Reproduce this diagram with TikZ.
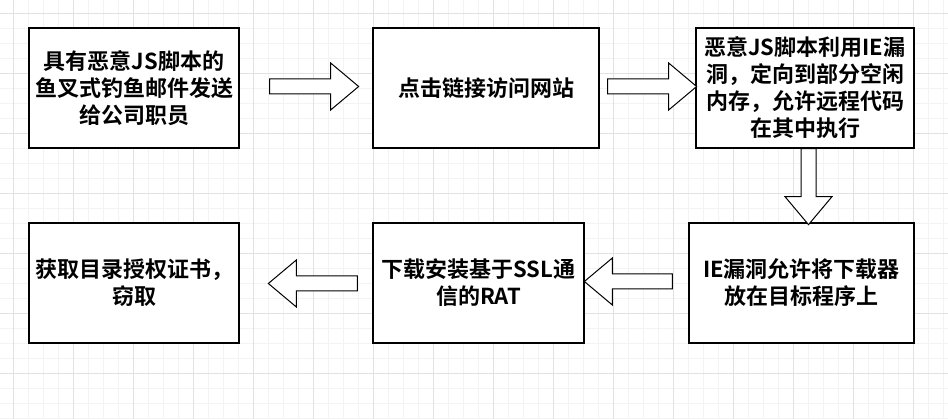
\documentclass[tikz,border=0pt]{standalone}
\usepackage{fontspec}
\setmainfont{Noto Sans CJK SC}[BoldFont={Noto Sans CJK SC Bold}]
\usetikzlibrary{calc}
\definecolor{gridminor}{HTML}{F3F3F3}
\definecolor{gridmajor}{HTML}{E2E2E2}
\tikzset{
  stepbox/.style={draw=black, line width=1.3pt, fill=white, inner sep=0pt,
    minimum height=120pt, align=center, font=\fontsize{22}{27}\selectfont\bfseries},
  fatarrow/.style={draw=black, line width=1pt, fill=white, line join=miter},
}
% block arrow: start point, length, direction
\newcommand{\drawfatarrow}[3]{%
  \draw[fatarrow, shift={#1}, rotate=#3] (0,7.5) -- (#2-28,7.5) -- (#2-28,23.5)
    -- (#2,0) -- (#2-28,-23.5) -- (#2-28,-7.5) -- (0,-7.5) -- cycle;}
\begin{document}
\begin{tikzpicture}[x=1pt,y=1pt]
    \useasboundingbox (0,0) rectangle (948,419);
    % 背景网格
    \begin{scope}
    \clip (0,0) rectangle (948,419);
    \foreach \i in {-1,...,63} \draw[gridminor] (13.3+15*\i,0) -- (13.3+15*\i,419);
    \foreach \i in {-1,...,27} \draw[gridminor] (0,406-15*\i) -- (948,406-15*\i);
    \foreach \i in {0,...,15} \draw[gridmajor] (13.3+60*\i,0) -- (13.3+60*\i,419);
    \foreach \i in {0,...,6} \draw[gridmajor] (0,406-60*\i) -- (948,406-60*\i);
    \end{scope}

    % 步骤框
    \node[stepbox, minimum width=210pt] (mail) at (134,331) {具有恶意JS脚本的\\鱼叉式钓鱼邮件发送\\给公司职员};
    \node[stepbox, minimum width=226pt] (click) at (486,331) {点击链接访问网站};
    \node[stepbox, minimum width=218pt] (exploit) at (805,331) {恶意JS脚本利用IE漏\\洞，定向到部分空闲\\内存，允许远程代码\\在其中执行};
    \node[stepbox, minimum width=225pt] (loader) at (801.5,136) {IE漏洞允许将下载器\\放在目标程序上};
    \node[stepbox, minimum width=211pt] (rat) at (478.5,136) {下载安装基于SSL通\\信的RAT};
    \node[stepbox, minimum width=210pt] (steal) at (134,136) {获取目录授权证书，\\窃取};

    % 箭头
    \drawfatarrow{($(mail.east)+(30,1.5)$)}{89}{0}
    \drawfatarrow{($(click.east)+(8,1.5)$)}{89}{0}
    \drawfatarrow{($(exploit.south)+(3.5,0)$)}{76}{-90}
    \drawfatarrow{($(loader.west)+(-16,1.5)$)}{88}{180}
    \drawfatarrow{($(rat.west)+(-15,-0.5)$)}{89}{180}
\end{tikzpicture}
\end{document}
